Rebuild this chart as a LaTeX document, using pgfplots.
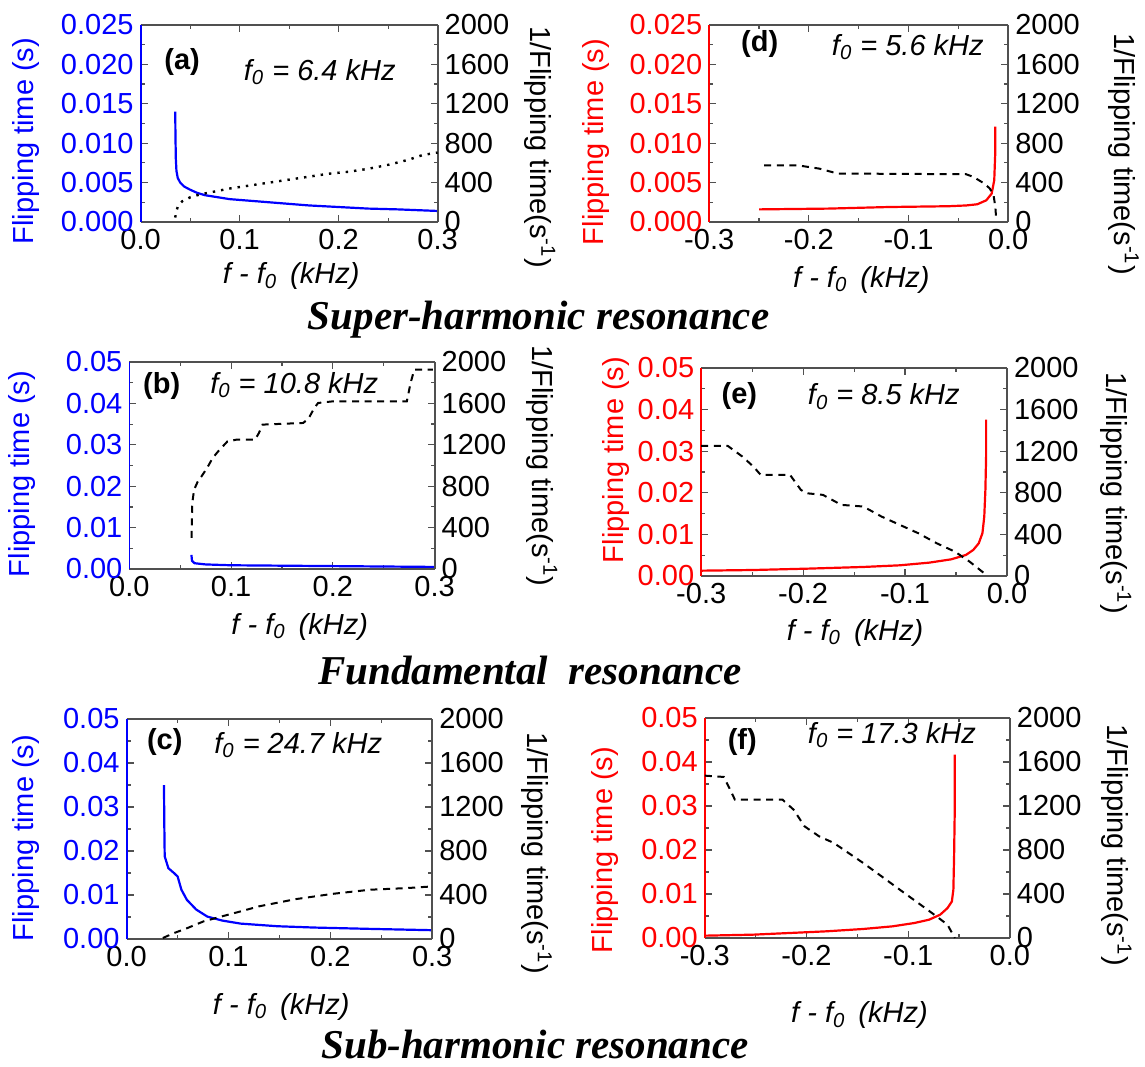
\documentclass[border=0pt]{standalone}
\usepackage{pgfplots}
\pgfplotsset{compat=1.18}
\usepackage{fontspec}
\setmainfont{Liberation Sans}
\newfontfamily\titlefont{Liberation Serif}

\definecolor{ablue}{RGB}{0,0,255}
\definecolor{ared}{RGB}{255,0,0}
\definecolor{frame}{RGB}{80,80,80}

\newcommand{\tk}{\fontsize{14.5}{15}\selectfont}
\newcommand{\ttl}{\titlefont\bfseries\itshape\fontsize{20.5}{22}\selectfont}

\pgfplotsset{
  common/.style={scale only axis, anchor=south west, clip=false,
    scaled x ticks=false, scaled y ticks=false,
    tick label style={font=\tk},
    every tick/.style={frame, line width=0.6pt},
    major tick length=3.5pt, minor tick length=2pt},
  lax/.style={common, axis y line*=left,
    y axis line style={-, line width=0.9pt},
    x axis line style={-, frame, line width=1pt},
    minor tick num=1, ymin=0,
    xticklabel={\pgfmathprintnumber[fixed,fixed zerofill,precision=1,assume math mode=true]{\tick}}},
  small/.style={ymax=0.025, ytick={0,0.005,0.01,0.015,0.02,0.025},
    yticklabel={\pgfmathprintnumber[fixed,fixed zerofill,precision=3,assume math mode=true]{\tick}}},
  big/.style={ymax=0.05, ytick={0,0.01,0.02,0.03,0.04,0.05},
    yticklabel={\pgfmathprintnumber[fixed,fixed zerofill,precision=2,assume math mode=true]{\tick}}},
  pos/.style={xmin=0, xmax=0.3, xtick={0,0.1,0.2,0.3}},
  neg/.style={xmin=-0.3, xmax=0, xtick={-0.3,-0.2,-0.1,0}},
  isblue/.style={y axis line style={ablue}, yticklabel style={ablue}},
  isred/.style={y axis line style={ared}, yticklabel style={ared}},
  rax/.style={common, axis x line=none, axis y line*=right,
    ymin=0, ymax=2000, ytick={0,400,800,1200,1600,2000}, minor y tick num=1,
    y axis line style={-, frame, line width=1pt},
    yticklabel={\pgfmathprintnumber[fixed,precision=0,1000 sep={},assume math mode=true]{\tick}}},
  dots/.style={black, line width=1.2pt, dash pattern=on 1.2pt off 3pt},
  dash/.style={black, line width=1pt, dash pattern=on 3.5pt off 2.8pt},
}

\begin{document}
\begin{tikzpicture}
\useasboundingbox (0,0) rectangle (572.5pt,533pt);

% (a) super-harmonic, f0 = 6.4 kHz
\begin{axis}[lax, small, pos, isblue, at={(70.3pt,422pt)}, width=148.5pt, height=98.5pt]
\addplot[ablue, line width=1.1pt] coordinates {
  (0.0350,0.0140)(0.0352,0.0110)(0.0356,0.0080)(0.0362,0.0065)(0.0375,0.0056)
  (0.040,0.0050)(0.044,0.0045)(0.050,0.0041)(0.057,0.0037)(0.065,0.0034)
  (0.075,0.0032)(0.090,0.0029)(0.110,0.0027)(0.130,0.0025)(0.150,0.0023)
  (0.170,0.0021)(0.200,0.0019)(0.230,0.0017)(0.260,0.0016)(0.280,0.0015)(0.300,0.0014)
};
\end{axis}
\begin{axis}[rax, pos, at={(70.3pt,422pt)}, width=148.5pt, height=98.5pt]
\addplot[dots] coordinates {
  (0.035,45)(0.036,110)(0.038,165)(0.042,210)(0.050,250)(0.060,280)(0.075,310)
  (0.090,340)(0.110,370)(0.130,400)(0.150,430)(0.170,460)(0.190,490)(0.210,510)
  (0.230,540)(0.250,580)(0.270,630)(0.285,680)(0.300,705)
};
\node[font=\tk\bfseries] at (rel axis cs:0.140,0.81) {(a)};
\node[font=\tk\itshape, anchor=base west] at (rel axis cs:0.324,0.72) {f\textsubscript{0} = 6.4 kHz};
\node[font=\tk\itshape, anchor=base] at (rel axis cs:0.507,-0.314) {f - f\textsubscript{0}\hspace{0.45em}(kHz)};
\node[rotate=90, font=\tk, text=ablue] at (rel axis cs:-0.386,0.411) {Flipping time (s)};
\node[rotate=-90, font=\tk] at (rel axis cs:1.345,0.381) {1/Flipping time(s\textsuperscript{-1})};
\end{axis}

% (d) super-harmonic, f0 = 5.6 kHz
\begin{axis}[lax, small, neg, isred, at={(354.6pt,422pt)}, width=149.5pt, height=98.5pt]
\addplot[ared, line width=1.1pt] coordinates {
  (-0.250,0.0016)(-0.18,0.0017)(-0.12,0.0019)(-0.06,0.0020)(-0.042,0.0021)
  (-0.031,0.00225)(-0.022,0.00275)(-0.0166,0.0036)(-0.014,0.0053)(-0.0129,0.0091)(-0.0129,0.0121)
};
\end{axis}
\begin{axis}[rax, neg, at={(354.6pt,422pt)}, width=149.5pt, height=98.5pt]
\addplot[dash] coordinates {
  (-0.2448,576)(-0.2117,576)(-0.1896,542)(-0.1712,492)(-0.0423,485)(-0.035,458)
  (-0.0239,390)(-0.0184,339)(-0.0147,271)(-0.0129,153)(-0.0122,51)
};
\node[font=\tk\bfseries] at (rel axis cs:0.169,0.903) {(d)};
\node[font=\tk\itshape, anchor=base west] at (rel axis cs:0.387,0.847) {f\textsubscript{0} = 5.6 kHz};
\node[font=\tk\itshape, anchor=base] at (rel axis cs:0.509,-0.33) {f - f\textsubscript{0}\hspace{0.45em}(kHz)};
\node[rotate=90, font=\tk, text=ared] at (rel axis cs:-0.380,0.406) {Flipping time (s)};
\node[rotate=-90, font=\tk] at (rel axis cs:1.386,0.345) {1/Flipping time(s\textsuperscript{-1})};
\end{axis}

% (b) fundamental, f0 = 10.8 kHz
\begin{axis}[lax, big, pos, isblue, at={(64.7pt,248.5pt)}, width=152.6pt, height=103.5pt]
\addplot[ablue, line width=1.1pt] coordinates {
  (0.061,0.0034)(0.0615,0.0020)(0.064,0.0014)(0.075,0.0011)(0.100,0.0009)
  (0.150,0.0008)(0.200,0.0007)(0.300,0.0005)
};
\end{axis}
\begin{axis}[rax, pos, at={(64.7pt,248.5pt)}, width=152.6pt, height=103.5pt]
\addplot[dash] coordinates {
  (0.0611,300)(0.0618,638)(0.0636,767)(0.0673,847)(0.0709,895)(0.0764,976)
  (0.0818,1072)(0.0873,1137)(0.0964,1233)(0.1055,1250)(0.1236,1250)(0.1273,1314)
  (0.1309,1395)(0.1709,1411)(0.1764,1459)(0.1818,1556)(0.1855,1604)(0.2000,1620)
  (0.2727,1620)(0.2764,1797)(0.2800,1926)(0.2982,1926)
};
\node[font=\tk\bfseries] at (rel axis cs:0.106,0.882) {(b)};
\node[font=\tk\itshape, anchor=base west] at (rel axis cs:0.242,0.85) {f\textsubscript{0} = 10.8 kHz};
\node[font=\tk\itshape, anchor=base] at (rel axis cs:0.558,-0.317) {f - f\textsubscript{0}\hspace{0.45em}(kHz)};
\node[rotate=90, font=\tk, text=ablue] at (rel axis cs:-0.352,0.459) {Flipping time (s)};
\node[rotate=-90, font=\tk] at (rel axis cs:1.352,0.498) {1/Flipping time(s\textsuperscript{-1})};
\end{axis}

% (e) fundamental, f0 = 8.5 kHz
\begin{axis}[lax, big, neg, isred, at={(350.6pt,245pt)}, width=152.9pt, height=104pt]
\addplot[ared, line width=1.1pt] coordinates {
  (-0.300,0.00128)(-0.2489,0.00144)(-0.195,0.00177)(-0.141,0.00217)(-0.105,0.00257)
  (-0.0763,0.00321)(-0.0547,0.00401)(-0.0403,0.00506)(-0.0331,0.00626)(-0.0277,0.00787)
  (-0.0241,0.0103)(-0.0223,0.0143)(-0.0212,0.0207)(-0.0205,0.0287)(-0.0205,0.0376)
};
\end{axis}
\begin{axis}[rax, neg, at={(350.6pt,245pt)}, width=152.9pt, height=104pt]
\addplot[dash] coordinates {
  (-0.300,1252)(-0.2741,1252)(-0.2597,1149)(-0.2489,1053)(-0.2417,973)(-0.2129,973)
  (-0.2022,828)(-0.1968,796)(-0.1806,780)(-0.1626,684)(-0.141,668)(-0.123,571)
  (-0.105,491)(-0.087,411)(-0.069,315)(-0.0511,234)(-0.0367,138)(-0.0223,26)
};
\node[font=\tk\bfseries] at (rel axis cs:0.125,0.864) {(e)};
\node[font=\tk\itshape, anchor=base west] at (rel axis cs:0.326,0.823) {f\textsubscript{0} = 8.5 kHz};
\node[font=\tk\itshape, anchor=base] at (rel axis cs:0.503,-0.308) {f - f\textsubscript{0}\hspace{0.45em}(kHz)};
\node[rotate=90, font=\tk, text=ared] at (rel axis cs:-0.279,0.558) {Flipping time (s)};
\node[rotate=-90, font=\tk] at (rel axis cs:1.357,0.399) {1/Flipping time(s\textsuperscript{-1})};
\end{axis}

% (c) sub-harmonic, f0 = 24.7 kHz
\begin{axis}[lax, big, pos, isblue, at={(63.3pt,63.5pt)}, width=152.8pt, height=110pt]
\addplot[ablue, line width=1.1pt] coordinates {
  (0.0367,0.0350)(0.0370,0.0263)(0.0374,0.0188)(0.0410,0.0161)(0.0465,0.0150)
  (0.0501,0.0142)(0.0538,0.0112)(0.0592,0.0089)(0.0683,0.0067)(0.0792,0.0051)
  (0.0937,0.0042)(0.1119,0.0035)(0.1482,0.0029)(0.1845,0.0026)(0.2390,0.0023)(0.3000,0.0020)
};
\end{axis}
\begin{axis}[rax, pos, at={(63.3pt,63.5pt)}, width=152.8pt, height=110pt]
\addplot[dash] coordinates {
  (0.0356,9)(0.0465,54)(0.0574,91)(0.0755,160)(0.0937,206)(0.1119,251)
  (0.1300,297)(0.1664,363)(0.2027,411)(0.2390,448)(0.2753,463)(0.3000,478)
};
\node[font=\tk\bfseries] at (rel axis cs:0.125,0.894) {(c)};
\node[font=\tk\itshape, anchor=base west] at (rel axis cs:0.264,0.844) {f\textsubscript{0} = 24.7 kHz};
\node[font=\tk\itshape, anchor=base] at (rel axis cs:0.506,-0.343) {f - f\textsubscript{0}\hspace{0.45em}(kHz)};
\node[rotate=90, font=\tk, text=ablue] at (rel axis cs:-0.329,0.459) {Flipping time (s)};
\node[rotate=-90, font=\tk] at (rel axis cs:1.342,0.391) {1/Flipping time(s\textsuperscript{-1})};
\end{axis}

% (f) sub-harmonic, f0 = 17.3 kHz
\begin{axis}[lax, big, neg, isred, at={(352.4pt,64pt)}, width=152.5pt, height=110pt]
\addplot[ared, line width=1.1pt] coordinates {
  (-0.300,0.00053)(-0.2524,0.00076)(-0.2163,0.00114)(-0.1803,0.00152)(-0.1442,0.00205)
  (-0.1154,0.00265)(-0.0938,0.00341)(-0.0793,0.00417)(-0.0685,0.0053)(-0.0613,0.0068)
  (-0.0570,0.0083)(-0.0555,0.0110)(-0.0548,0.0186)(-0.0541,0.0299)(-0.0541,0.0417)
};
\end{axis}
\begin{axis}[rax, neg, at={(352.4pt,64pt)}, width=152.5pt, height=110pt]
\addplot[dash] coordinates {
  (-0.300,1476)(-0.2812,1464)(-0.2704,1258)(-0.2236,1258)(-0.2127,1167)(-0.2019,1015)
  (-0.1875,924)(-0.1731,864)(-0.1587,773)(-0.1442,682)(-0.1262,561)(-0.1082,439)
  (-0.0901,318)(-0.0721,197)(-0.0613,121)(-0.0541,0)
};
\node[font=\tk\bfseries] at (rel axis cs:0.123,0.891) {(f)};
\node[font=\tk\itshape, anchor=base west] at (rel axis cs:0.315,0.886) {f\textsubscript{0} = 17.3 kHz};
\node[font=\tk\itshape, anchor=base] at (rel axis cs:0.507,-0.386) {f - f\textsubscript{0}\hspace{0.45em}(kHz)};
\node[rotate=90, font=\tk, text=ared] at (rel axis cs:-0.328,0.4) {Flipping time (s)};
\node[rotate=-90, font=\tk] at (rel axis cs:1.349,0.423) {1/Flipping time(s\textsuperscript{-1})};
\end{axis}

% row titles
\node[anchor=base, font=\ttl] at (269.3pt,368pt) {Super-harmonic resonance};
\node[anchor=base, font=\ttl] at (265pt,190.5pt) {Fundamental\ \ resonance};
\node[anchor=base, font=\ttl] at (267.5pt,4pt) {Sub-harmonic resonance};
\end{tikzpicture}
\end{document}
